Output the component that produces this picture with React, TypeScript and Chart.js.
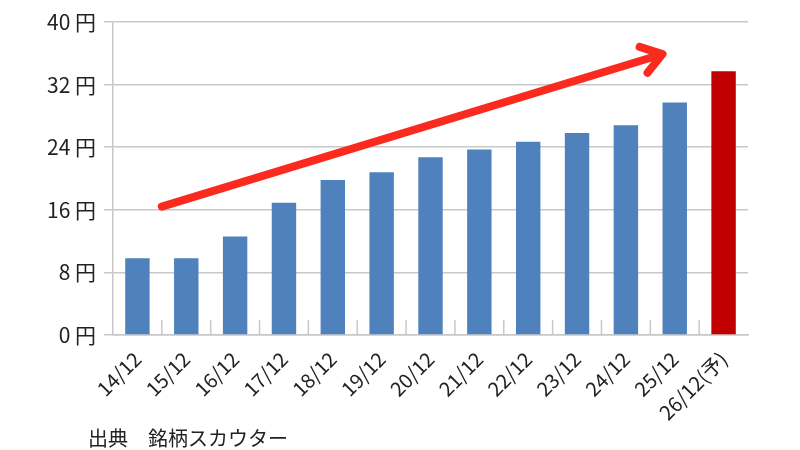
import { useEffect, useRef } from "react";
import { Chart, registerables, ChartConfiguration, Plugin } from "chart.js";

Chart.register(...registerables);

// 決算期と1株配当（円）
const categories = ["14/12", "15/12", "16/12", "17/12", "18/12", "19/12", "20/12", "21/12", "22/12", "23/12", "24/12", "25/12", "26/12(予)"];
const dividends = [9.8, 9.8, 12.6, 16.9, 19.8, 20.8, 22.7, 23.7, 24.7, 25.8, 26.8, 29.7, 33.7];
const yTicks = [0, 8, 16, 24, 32, 40];

// trend arrow in data space: [category index, value]
const trendFrom = [0.5, 16.4];
const trendTo = [10.75, 35.9];

const sourceNote = "出典　銘柄スカウター";

const FONT = "'Noto Sans CJK JP', 'Noto Sans', sans-serif";
const BLUE = "#4f81bd";
const RED = "#c00000";
const GRID = "#c8c8c8";
const TEXT = "#222222";

// small tick marks between categories, pointing up from the x axis
const categoryTicks: Plugin = {
    id: "categoryTicks",
    afterDraw(chart) {
        const x = chart.scales.x;
        const { ctx, chartArea } = chart;
        ctx.save();
        ctx.strokeStyle = GRID;
        ctx.lineWidth = 1.5;
        for (let i = 1; i < categories.length; i++) {
            const px = (x.getPixelForTick(i - 1) + x.getPixelForTick(i)) / 2;
            ctx.beginPath();
            ctx.moveTo(px, chartArea.bottom);
            ctx.lineTo(px, chartArea.bottom - 15);
            ctx.stroke();
        }
        ctx.restore();
    },
};

const trendArrow: Plugin = {
    id: "trendArrow",
    afterDatasetsDraw(chart) {
        const x = chart.scales.x;
        const y = chart.scales.y;
        const { ctx } = chart;
        const x0 = x.getPixelForValue(trendFrom[0]);
        const y0 = y.getPixelForValue(trendFrom[1]);
        const x1 = x.getPixelForValue(trendTo[0]);
        const y1 = y.getPixelForValue(trendTo[1]);
        const ang = Math.atan2(y1 - y0, x1 - x0);
        const head = 24;
        ctx.save();
        ctx.strokeStyle = "#fb2a1f";
        ctx.lineWidth = 8;
        ctx.lineCap = "round";
        ctx.lineJoin = "round";
        ctx.beginPath();
        ctx.moveTo(x0, y0);
        ctx.lineTo(x1 - 3 * Math.cos(ang), y1 - 3 * Math.sin(ang));
        ctx.stroke();
        ctx.beginPath();
        ctx.moveTo(x1 - head * Math.cos(ang - 0.6), y1 - head * Math.sin(ang - 0.6));
        ctx.lineTo(x1, y1);
        ctx.lineTo(x1 - head * Math.cos(ang + 0.6), y1 - head * Math.sin(ang + 0.6));
        ctx.stroke();
        ctx.restore();
    },
};

const sourceText: Plugin = {
    id: "sourceText",
    afterDraw(chart) {
        const { ctx } = chart;
        ctx.save();
        ctx.fillStyle = TEXT;
        ctx.font = `20px ${FONT}`;
        ctx.textBaseline = "middle";
        ctx.fillText(sourceNote, 88, 438);
        ctx.restore();
    },
};

export default function App() {
    const canvasRef = useRef<HTMLCanvasElement>(null);

    useEffect(() => {
        document.body.style.margin = "0";
        if (!canvasRef.current) return;

        const config: ChartConfiguration = {
            type: "bar",
            data: {
                labels: categories,
                datasets: [
                    {
                        data: dividends,
                        backgroundColor: categories.map((_, i) => (i === categories.length - 1 ? RED : BLUE)),
                        barPercentage: 0.5,
                        categoryPercentage: 1,
                    },
                ],
            },
            options: {
                responsive: false,
                animation: false,
                layout: { padding: { top: 22, right: 52, bottom: 0, left: 0 } },
                plugins: {
                    legend: { display: false },
                    tooltip: { enabled: false },
                },
                scales: {
                    x: {
                        grid: { display: false },
                        border: { color: GRID, width: 1.5 },
                        ticks: {
                            minRotation: 45,
                            maxRotation: 45,
                            color: TEXT,
                            padding: 4,
                            font: { family: FONT, size: 20 },
                        },
                        afterFit: (scale) => {
                            scale.height = 115;
                        },
                    },
                    y: {
                        min: 0,
                        max: 40,
                        afterBuildTicks: (scale) => {
                            scale.ticks = yTicks.map((v) => ({ value: v }));
                        },
                        grid: { color: GRID, lineWidth: 1.5, tickLength: 9 },
                        border: { color: GRID, width: 1.5 },
                        ticks: {
                            color: TEXT,
                            padding: 8,
                            font: { family: FONT, size: 21 },
                            callback: (v) => `${v} 円`,
                        },
                        afterFit: (scale) => {
                            scale.width = 113;
                        },
                    },
                },
            },
            plugins: [categoryTicks, trendArrow, sourceText],
        };

        const chart = new Chart(canvasRef.current, config);
        return () => chart.destroy();
    }, []);

    return (
        <div style={{ width: 800, height: 450, background: "#fff" }}>
            <canvas ref={canvasRef} width={800} height={450} />
        </div>
    );
}
